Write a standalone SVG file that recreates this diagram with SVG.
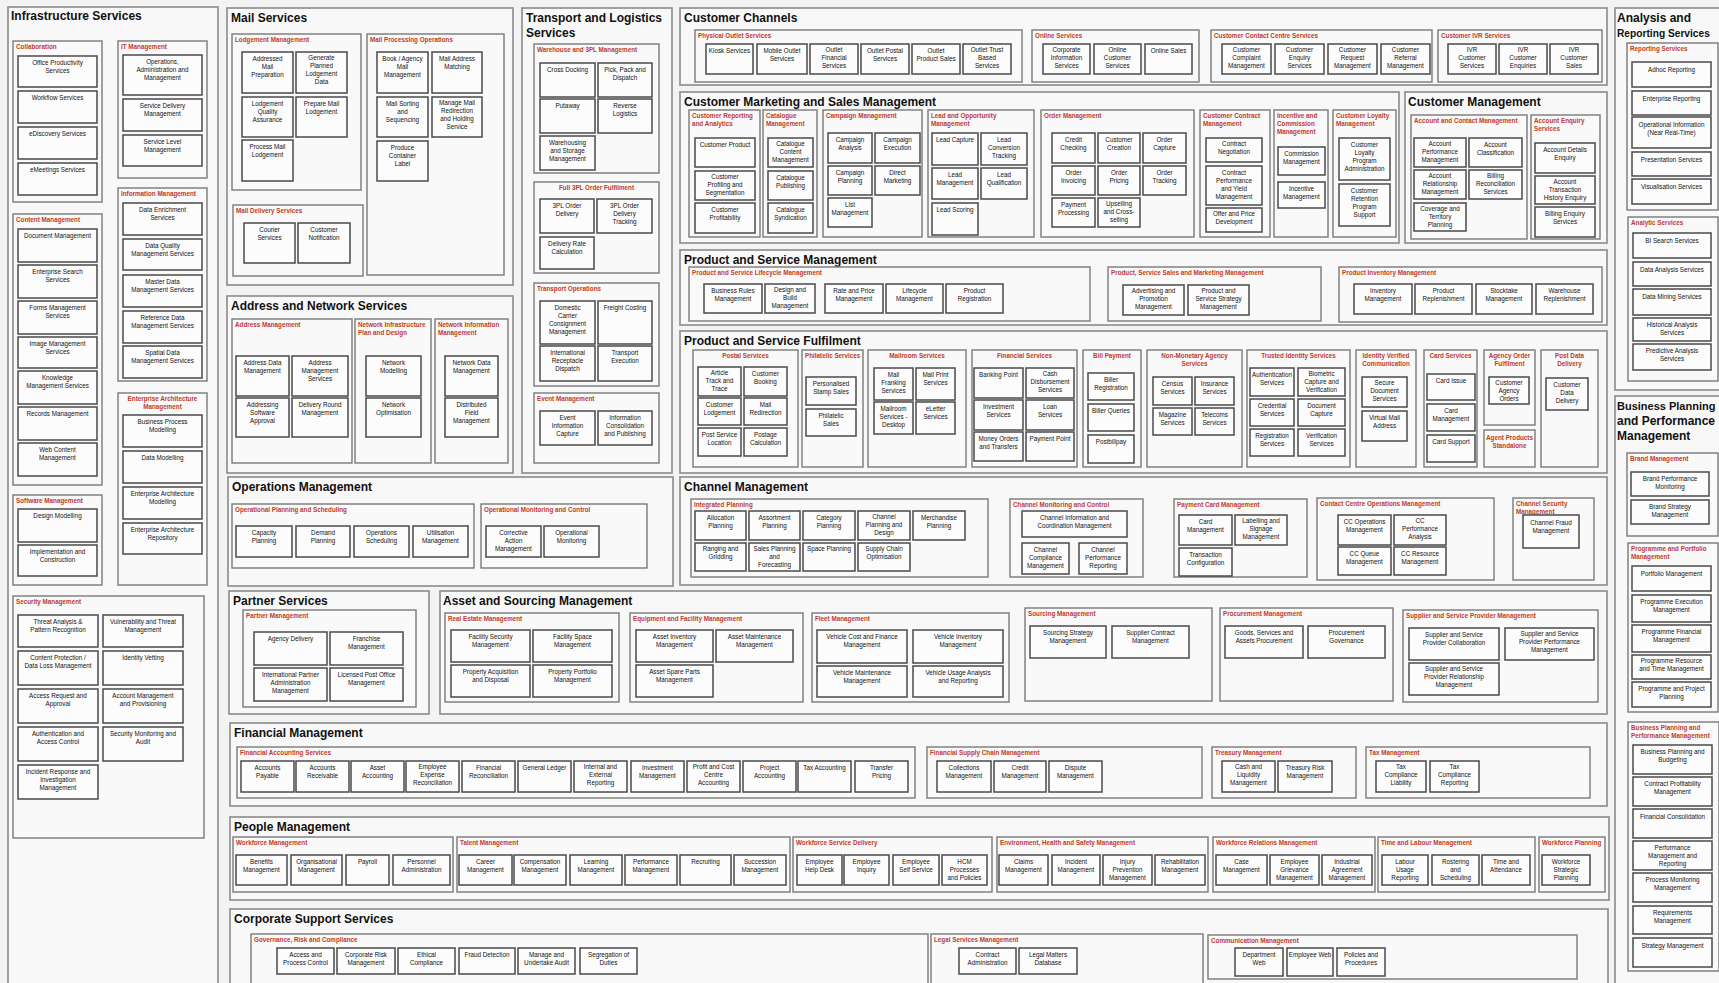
<svg xmlns="http://www.w3.org/2000/svg" width="1719" height="983" viewBox="0 0 1719 983">
<style>
.g{fill:#f8f8f8;stroke:#8a8a8a;stroke-width:1.6}
.s{fill:#f9f9f9;stroke:#7a7a7a;stroke-width:1.4}
.b{fill:#fcfcfc;stroke:#4a4a4a;stroke-width:1.5}
.t{font:bold 12px "Liberation Sans",Arial,sans-serif;fill:#111}
.l{font:bold 6.3px "Liberation Sans",Arial,sans-serif;fill:#c0392b}
.lc{text-anchor:middle}
.n{font:6.3px "Liberation Sans",Arial,sans-serif;fill:#111;text-anchor:middle}
</style>
<rect x="0" y="0" width="1719" height="983" fill="#f3f3f3"/>

<!-- ================= Infrastructure Services ================= -->
<g id="infrastructure-services"><rect class="g" x="8" y="7" width="210" height="990"/><text class="t" x="11" y="20">Infrastructure Services</text></g>
<g id="collaboration"><rect class="s" x="13" y="41" width="89" height="161"/><text class="l" x="16" y="49">Collaboration</text></g>
<g id="n-office-prod"><rect class="b" x="18" y="56" width="79" height="31"/><text class="n" x="57.5" y="65">Office Productivity<tspan x="57.5" dy="8">Services</tspan></text></g>
<g id="n-workflow"><rect class="b" x="18" y="91" width="79" height="32"/><text class="n" x="57.5" y="100">Workflow Services</text></g>
<g id="n-ediscovery"><rect class="b" x="18" y="127" width="79" height="32"/><text class="n" x="57.5" y="136">eDiscovery Services</text></g>
<g id="n-emeetings"><rect class="b" x="18" y="163" width="79" height="32"/><text class="n" x="57.5" y="172">eMeetings Services</text></g>

<g id="it-management"><rect class="s" x="118" y="41" width="89" height="137"/><text class="l" x="121" y="49">IT Management</text></g>
<g id="n-ops-admin"><rect class="b" x="123" y="55" width="79" height="40"/><text class="n" x="162.5" y="64">Operations,<tspan x="162.5" dy="8">Administration and</tspan><tspan x="162.5" dy="8">Management</tspan></text></g>
<g id="n-service-delivery"><rect class="b" x="123" y="99" width="79" height="32"/><text class="n" x="162.5" y="108">Service Delivery<tspan x="162.5" dy="8">Management</tspan></text></g>
<g id="n-service-level"><rect class="b" x="123" y="135" width="79" height="31"/><text class="n" x="162.5" y="144">Service Level<tspan x="162.5" dy="8">Management</tspan></text></g>

<g id="content-management"><rect class="s" x="13" y="214" width="89" height="271"/><text class="l" x="16" y="222">Content Management</text></g>
<g id="n-document-mgmt"><rect class="b" x="18" y="229" width="79" height="33"/><text class="n" x="57.5" y="238">Document Management</text></g>
<g id="n-enterprise-search"><rect class="b" x="18" y="265" width="79" height="33"/><text class="n" x="57.5" y="274">Enterprise Search<tspan x="57.5" dy="8">Services</tspan></text></g>
<g id="n-forms-mgmt"><rect class="b" x="18" y="301" width="79" height="33"/><text class="n" x="57.5" y="310">Forms Management<tspan x="57.5" dy="8">Services</tspan></text></g>
<g id="n-image-mgmt"><rect class="b" x="18" y="337" width="79" height="31"/><text class="n" x="57.5" y="346">Image Management<tspan x="57.5" dy="8">Services</tspan></text></g>
<g id="n-knowledge-mgmt"><rect class="b" x="18" y="371" width="79" height="33"/><text class="n" x="57.5" y="380">Knowledge<tspan x="57.5" dy="8">Management Services</tspan></text></g>
<g id="n-records-mgmt"><rect class="b" x="18" y="407" width="79" height="33"/><text class="n" x="57.5" y="416">Records Management</text></g>
<g id="n-web-content"><rect class="b" x="18" y="443" width="79" height="33"/><text class="n" x="57.5" y="452">Web Content<tspan x="57.5" dy="8">Management</tspan></text></g>

<g id="information-management"><rect class="s" x="118" y="188" width="89" height="193"/><text class="l" x="121" y="196">Information Management</text></g>
<g id="n-data-enrichment"><rect class="b" x="123" y="203" width="79" height="32"/><text class="n" x="162.5" y="212">Data Enrichment<tspan x="162.5" dy="8">Services</tspan></text></g>
<g id="n-data-quality"><rect class="b" x="123" y="239" width="79" height="31"/><text class="n" x="162.5" y="248">Data Quality<tspan x="162.5" dy="8">Management Services</tspan></text></g>
<g id="n-master-data"><rect class="b" x="123" y="275" width="79" height="32"/><text class="n" x="162.5" y="284">Master Data<tspan x="162.5" dy="8">Management Services</tspan></text></g>
<g id="n-reference-data"><rect class="b" x="123" y="311" width="79" height="32"/><text class="n" x="162.5" y="320">Reference Data<tspan x="162.5" dy="8">Management Services</tspan></text></g>
<g id="n-spatial-data"><rect class="b" x="123" y="346" width="79" height="32"/><text class="n" x="162.5" y="355">Spatial Data<tspan x="162.5" dy="8">Management Services</tspan></text></g>

<g id="ea-management"><rect class="s" x="118" y="393" width="89" height="192"/><text class="l lc" x="162.5" y="401">Enterprise Architecture<tspan x="162.5" dy="8">Management</tspan></text></g>
<g id="n-bp-modelling"><rect class="b" x="123" y="415" width="79" height="32"/><text class="n" x="162.5" y="424">Business Process<tspan x="162.5" dy="8">Modelling</tspan></text></g>
<g id="n-data-modelling"><rect class="b" x="123" y="451" width="79" height="32"/><text class="n" x="162.5" y="460">Data Modelling</text></g>
<g id="n-ea-modelling"><rect class="b" x="123" y="487" width="79" height="32"/><text class="n" x="162.5" y="496">Enterprise Architecture<tspan x="162.5" dy="8">Modelling</tspan></text></g>
<g id="n-ea-repository"><rect class="b" x="123" y="523" width="79" height="31"/><text class="n" x="162.5" y="532">Enterprise Architecture<tspan x="162.5" dy="8">Repository</tspan></text></g>

<g id="software-management"><rect class="s" x="13" y="495" width="89" height="90"/><text class="l" x="16" y="503">Software Management</text></g>
<g id="n-design-modelling"><rect class="b" x="18" y="509" width="79" height="33"/><text class="n" x="57.5" y="518">Design Modelling</text></g>
<g id="n-implementation"><rect class="b" x="18" y="545" width="79" height="31"/><text class="n" x="57.5" y="554">Implementation and<tspan x="57.5" dy="8">Construction</tspan></text></g>

<g id="security-management"><rect class="s" x="13" y="596" width="191" height="242"/><text class="l" x="16" y="604">Security Management</text></g>
<g id="n-threat-analysis"><rect class="b" x="18" y="615" width="80" height="32"/><text class="n" x="58" y="624">Threat Analysis &amp;<tspan x="58" dy="8">Pattern Recognition</tspan></text></g>
<g id="n-vulnerability"><rect class="b" x="103" y="615" width="80" height="32"/><text class="n" x="143" y="624">Vulnerability and Threat<tspan x="143" dy="8">Management</tspan></text></g>
<g id="n-content-protection"><rect class="b" x="18" y="651" width="80" height="34"/><text class="n" x="58" y="660">Content Protection /<tspan x="58" dy="8">Data Loss Management</tspan></text></g>
<g id="n-identity-vetting"><rect class="b" x="103" y="651" width="80" height="34"/><text class="n" x="143" y="660">Identity Vetting</text></g>
<g id="n-access-request"><rect class="b" x="18" y="689" width="80" height="34"/><text class="n" x="58" y="698">Access Request and<tspan x="58" dy="8">Approval</tspan></text></g>
<g id="n-account-mgmt-prov"><rect class="b" x="103" y="689" width="80" height="34"/><text class="n" x="143" y="698">Account Management<tspan x="143" dy="8">and Provisioning</tspan></text></g>
<g id="n-authentication"><rect class="b" x="18" y="727" width="80" height="34"/><text class="n" x="58" y="736">Authentication and<tspan x="58" dy="8">Access Control</tspan></text></g>
<g id="n-security-monitoring"><rect class="b" x="103" y="727" width="80" height="34"/><text class="n" x="143" y="736">Security Monitoring and<tspan x="143" dy="8">Audit</tspan></text></g>
<g id="n-incident-response"><rect class="b" x="18" y="765" width="80" height="34"/><text class="n" x="58" y="774">Incident Response and<tspan x="58" dy="8">Investigation</tspan><tspan x="58" dy="8">Management</tspan></text></g>

<!-- ================= Mail Services ================= -->
<g id="mail-services"><rect class="g" x="227" y="8" width="286" height="277"/><text class="t" x="231" y="22">Mail Services</text></g>
<g id="lodgement-management"><rect class="s" x="232" y="34" width="129" height="156"/><text class="l" x="235" y="42">Lodgement Management</text></g>
<g id="n-addressed-mail"><rect class="b" x="242" y="52" width="51" height="41"/><text class="n" x="267.5" y="61">Addressed<tspan x="267.5" dy="8">Mail</tspan><tspan x="267.5" dy="8">Preparation</tspan></text></g>
<g id="n-generate-planned"><rect class="b" x="296" y="52" width="51" height="41"/><text class="n" x="321.5" y="60">Generate<tspan x="321.5" dy="8">Planned</tspan><tspan x="321.5" dy="8">Lodgement</tspan><tspan x="321.5" dy="8">Data</tspan></text></g>
<g id="n-lodgement-qa"><rect class="b" x="242" y="97" width="51" height="40"/><text class="n" x="267.5" y="106">Lodgement<tspan x="267.5" dy="8">Quality</tspan><tspan x="267.5" dy="8">Assurance</tspan></text></g>
<g id="n-prepare-mail"><rect class="b" x="296" y="97" width="51" height="40"/><text class="n" x="321.5" y="106">Prepare Mail<tspan x="321.5" dy="8">Lodgement</tspan></text></g>
<g id="n-process-mail"><rect class="b" x="242" y="140" width="51" height="41"/><text class="n" x="267.5" y="149">Process Mail<tspan x="267.5" dy="8">Lodgement</tspan></text></g>

<g id="mail-delivery-services"><rect class="s" x="233" y="205" width="130" height="71"/><text class="l" x="236" y="213">Mail Delivery Services</text></g>
<g id="n-courier"><rect class="b" x="244" y="223" width="51" height="40"/><text class="n" x="269.5" y="232">Courier<tspan x="269.5" dy="8">Services</tspan></text></g>
<g id="n-customer-notification"><rect class="b" x="298" y="223" width="52" height="40"/><text class="n" x="324" y="232">Customer<tspan x="324" dy="8">Notification</tspan></text></g>

<g id="mail-processing-operations"><rect class="s" x="367" y="34" width="137" height="241"/><text class="l" x="370" y="42">Mail Processing Operations</text></g>
<g id="n-book-agency"><rect class="b" x="377" y="52" width="51" height="41"/><text class="n" x="402.5" y="61">Book / Agency<tspan x="402.5" dy="8">Mail</tspan><tspan x="402.5" dy="8">Management</tspan></text></g>
<g id="n-mail-address-matching"><rect class="b" x="432" y="52" width="50" height="41"/><text class="n" x="457" y="61">Mail Address<tspan x="457" dy="8">Matching</tspan></text></g>
<g id="n-mail-sorting"><rect class="b" x="377" y="97" width="51" height="40"/><text class="n" x="402.5" y="106">Mail Sorting<tspan x="402.5" dy="8">and</tspan><tspan x="402.5" dy="8">Sequencing</tspan></text></g>
<g id="n-manage-redirection"><rect class="b" x="432" y="97" width="50" height="40"/><text class="n" x="457" y="105">Manage Mail<tspan x="457" dy="8">Redirection</tspan><tspan x="457" dy="8">and Holding</tspan><tspan x="457" dy="8">Service</tspan></text></g>
<g id="n-container-label"><rect class="b" x="377" y="141" width="51" height="40"/><text class="n" x="402.5" y="150">Produce<tspan x="402.5" dy="8">Container</tspan><tspan x="402.5" dy="8">Label</tspan></text></g>

<!-- ================= Address and Network Services ================= -->
<g id="address-network-services"><rect class="g" x="227" y="296" width="286" height="177"/><text class="t" x="231" y="310">Address and Network Services</text></g>
<g id="address-management"><rect class="s" x="232" y="319" width="120" height="144"/><text class="l" x="235" y="327">Address Management</text></g>
<g id="n-address-data"><rect class="b" x="236" y="356" width="53" height="40"/><text class="n" x="262.5" y="365">Address Data<tspan x="262.5" dy="8">Management</tspan></text></g>
<g id="n-address-mgmt-services"><rect class="b" x="292" y="356" width="56" height="40"/><text class="n" x="320" y="365">Address<tspan x="320" dy="8">Management</tspan><tspan x="320" dy="8">Services</tspan></text></g>
<g id="n-addressing-software"><rect class="b" x="236" y="398" width="53" height="39"/><text class="n" x="262.5" y="407">Addressing<tspan x="262.5" dy="8">Software</tspan><tspan x="262.5" dy="8">Approval</tspan></text></g>
<g id="n-delivery-round"><rect class="b" x="292" y="398" width="56" height="39"/><text class="n" x="320" y="407">Delivery Round<tspan x="320" dy="8">Management</tspan></text></g>
<g id="network-infra-plan"><rect class="s" x="355" y="319" width="76" height="144"/><text class="l" x="358" y="327">Network Infrastructure<tspan x="358" dy="8">Plan and Design</tspan></text></g>
<g id="n-network-modelling"><rect class="b" x="366" y="356" width="55" height="40"/><text class="n" x="393.5" y="365">Network<tspan x="393.5" dy="8">Modelling</tspan></text></g>
<g id="n-network-optimisation"><rect class="b" x="366" y="398" width="55" height="39"/><text class="n" x="393.5" y="407">Network<tspan x="393.5" dy="8">Optimisation</tspan></text></g>
<g id="network-info-mgmt"><rect class="s" x="435" y="319" width="73" height="144"/><text class="l" x="438" y="327">Network Information<tspan x="438" dy="8">Management</tspan></text></g>
<g id="n-network-data"><rect class="b" x="445" y="356" width="53" height="40"/><text class="n" x="471.5" y="365">Network Data<tspan x="471.5" dy="8">Management</tspan></text></g>
<g id="n-distributed-field"><rect class="b" x="445" y="398" width="53" height="39"/><text class="n" x="471.5" y="407">Distributed<tspan x="471.5" dy="8">Field</tspan><tspan x="471.5" dy="8">Management</tspan></text></g>

<!-- ================= Transport and Logistics ================= -->
<g id="transport-logistics"><rect class="g" x="522" y="8" width="150" height="465"/><text class="t" x="526" y="22">Transport and Logistics<tspan x="526" dy="15">Services</tspan></text></g>
<g id="warehouse-3pl"><rect class="s" x="534" y="44" width="125" height="129"/><text class="l" x="537" y="52">Warehouse and 3PL Management</text></g>
<g id="n-cross-docking"><rect class="b" x="540" y="63" width="55" height="34"/><text class="n" x="567.5" y="72">Cross Docking</text></g>
<g id="n-pick-pack"><rect class="b" x="598" y="63" width="54" height="34"/><text class="n" x="625" y="72">Pick, Pack and<tspan x="625" dy="8">Dispatch</tspan></text></g>
<g id="n-putaway"><rect class="b" x="540" y="99" width="55" height="34"/><text class="n" x="567.5" y="108">Putaway</text></g>
<g id="n-reverse-logistics"><rect class="b" x="598" y="99" width="54" height="34"/><text class="n" x="625" y="108">Reverse<tspan x="625" dy="8">Logistics</tspan></text></g>
<g id="n-warehousing"><rect class="b" x="540" y="136" width="55" height="34"/><text class="n" x="567.5" y="145">Warehousing<tspan x="567.5" dy="8">and Storage</tspan><tspan x="567.5" dy="8">Management</tspan></text></g>
<g id="full-3pl"><rect class="s" x="534" y="182" width="125" height="91"/><text class="l lc" x="596.5" y="190">Full 3PL Order Fulfilment</text></g>
<g id="n-3pl-delivery"><rect class="b" x="540" y="199" width="54" height="34"/><text class="n" x="567" y="208">3PL Order<tspan x="567" dy="8">Delivery</tspan></text></g>
<g id="n-3pl-tracking"><rect class="b" x="597" y="199" width="55" height="34"/><text class="n" x="624.5" y="208">3PL Order<tspan x="624.5" dy="8">Delivery</tspan><tspan x="624.5" dy="8">Tracking</tspan></text></g>
<g id="n-delivery-rate"><rect class="b" x="540" y="237" width="54" height="32"/><text class="n" x="567" y="246">Delivery Rate<tspan x="567" dy="8">Calculation</tspan></text></g>
<g id="transport-operations"><rect class="s" x="534" y="283" width="125" height="103"/><text class="l" x="537" y="291">Transport Operations</text></g>
<g id="n-domestic-carrier"><rect class="b" x="540" y="301" width="55" height="43"/><text class="n" x="567.5" y="310">Domestic<tspan x="567.5" dy="8">Carrier</tspan><tspan x="567.5" dy="8">Consignment</tspan><tspan x="567.5" dy="8">Management</tspan></text></g>
<g id="n-freight-costing"><rect class="b" x="598" y="301" width="54" height="43"/><text class="n" x="625" y="310">Freight Costing</text></g>
<g id="n-intl-receptacle"><rect class="b" x="540" y="346" width="55" height="35"/><text class="n" x="567.5" y="355">International<tspan x="567.5" dy="8">Receptacle</tspan><tspan x="567.5" dy="8">Dispatch</tspan></text></g>
<g id="n-transport-execution"><rect class="b" x="598" y="346" width="54" height="35"/><text class="n" x="625" y="355">Transport<tspan x="625" dy="8">Execution</tspan></text></g>
<g id="event-management"><rect class="s" x="534" y="393" width="125" height="70"/><text class="l" x="537" y="401">Event Management</text></g>
<g id="n-event-info"><rect class="b" x="540" y="411" width="55" height="34"/><text class="n" x="567.5" y="420">Event<tspan x="567.5" dy="8">Information</tspan><tspan x="567.5" dy="8">Capture</tspan></text></g>
<g id="n-info-consolidation"><rect class="b" x="598" y="411" width="54" height="34"/><text class="n" x="625" y="420">Information<tspan x="625" dy="8">Consolidation</tspan><tspan x="625" dy="8">and Publishing</tspan></text></g>

<!-- ================= Customer Channels ================= -->
<g id="customer-channels"><rect class="g" x="680" y="8" width="927" height="77"/><text class="t" x="684" y="22">Customer Channels</text></g>
<g id="physical-outlet"><rect class="s" x="695" y="30" width="327" height="52"/><text class="l" x="698" y="38">Physical Outlet Services</text></g>
<g id="n-kiosk"><rect class="b" x="706" y="44" width="47" height="30"/><text class="n" x="729.5" y="53">Kiosk Services</text></g>
<g id="n-mobile-outlet"><rect class="b" x="757" y="44" width="50" height="30"/><text class="n" x="782" y="53">Mobile Outlet<tspan x="782" dy="8">Services</tspan></text></g>
<g id="n-outlet-financial"><rect class="b" x="810" y="44" width="48" height="30"/><text class="n" x="834" y="52">Outlet<tspan x="834" dy="8">Financial</tspan><tspan x="834" dy="8">Services</tspan></text></g>
<g id="n-outlet-postal"><rect class="b" x="861" y="44" width="48" height="30"/><text class="n" x="885" y="53">Outlet Postal<tspan x="885" dy="8">Services</tspan></text></g>
<g id="n-outlet-product"><rect class="b" x="912" y="44" width="48" height="30"/><text class="n" x="936" y="53">Outlet<tspan x="936" dy="8">Product Sales</tspan></text></g>
<g id="n-outlet-trust"><rect class="b" x="963" y="44" width="48" height="30"/><text class="n" x="987" y="52">Outlet Trust<tspan x="987" dy="8">Based</tspan><tspan x="987" dy="8">Services</tspan></text></g>
<g id="online-services"><rect class="s" x="1032" y="30" width="167" height="52"/><text class="l" x="1035" y="38">Online Services</text></g>
<g id="n-corporate-info"><rect class="b" x="1043" y="44" width="47" height="30"/><text class="n" x="1066.5" y="52">Corporate<tspan x="1066.5" dy="8">Information</tspan><tspan x="1066.5" dy="8">Services</tspan></text></g>
<g id="n-online-customer"><rect class="b" x="1094" y="44" width="47" height="30"/><text class="n" x="1117.5" y="52">Online<tspan x="1117.5" dy="8">Customer</tspan><tspan x="1117.5" dy="8">Services</tspan></text></g>
<g id="n-online-sales"><rect class="b" x="1145" y="44" width="47" height="30"/><text class="n" x="1168.5" y="53">Online Sales</text></g>
<g id="contact-centre-services"><rect class="s" x="1211" y="30" width="221" height="52"/><text class="l" x="1214" y="38">Customer Contact Centre Services</text></g>
<g id="n-cust-complaint"><rect class="b" x="1222" y="44" width="49" height="30"/><text class="n" x="1246.5" y="52">Customer<tspan x="1246.5" dy="8">Complaint</tspan><tspan x="1246.5" dy="8">Management</tspan></text></g>
<g id="n-cust-enquiry"><rect class="b" x="1275" y="44" width="49" height="30"/><text class="n" x="1299.5" y="52">Customer<tspan x="1299.5" dy="8">Enquiry</tspan><tspan x="1299.5" dy="8">Services</tspan></text></g>
<g id="n-cust-request"><rect class="b" x="1328" y="44" width="49" height="30"/><text class="n" x="1352.5" y="52">Customer<tspan x="1352.5" dy="8">Request</tspan><tspan x="1352.5" dy="8">Management</tspan></text></g>
<g id="n-cust-referral"><rect class="b" x="1381" y="44" width="49" height="30"/><text class="n" x="1405.5" y="52">Customer<tspan x="1405.5" dy="8">Referral</tspan><tspan x="1405.5" dy="8">Management</tspan></text></g>
<g id="ivr-services"><rect class="s" x="1438" y="30" width="164" height="52"/><text class="l" x="1441" y="38">Customer IVR Services</text></g>
<g id="n-ivr-services"><rect class="b" x="1448" y="44" width="48" height="30"/><text class="n" x="1472" y="52">IVR<tspan x="1472" dy="8">Customer</tspan><tspan x="1472" dy="8">Services</tspan></text></g>
<g id="n-ivr-enquiries"><rect class="b" x="1499" y="44" width="48" height="30"/><text class="n" x="1523" y="52">IVR<tspan x="1523" dy="8">Customer</tspan><tspan x="1523" dy="8">Enquiries</tspan></text></g>
<g id="n-ivr-sales"><rect class="b" x="1550" y="44" width="48" height="30"/><text class="n" x="1574" y="52">IVR<tspan x="1574" dy="8">Customer</tspan><tspan x="1574" dy="8">Sales</tspan></text></g>

<!-- ================= Customer Marketing and Sales ================= -->
<g id="cust-marketing-sales"><rect class="g" x="680" y="92" width="719" height="151"/><text class="t" x="684" y="106">Customer Marketing and Sales Management</text></g>
<g id="cust-reporting"><rect class="s" x="689" y="110" width="71" height="127"/><text class="l" x="692" y="118">Customer Reporting<tspan x="692" dy="8">and Analytics</tspan></text></g>
<g id="n-cust-product"><rect class="b" x="695" y="138" width="60" height="29"/><text class="n" x="725" y="147">Customer Product</text></g>
<g id="n-cust-profiling"><rect class="b" x="695" y="171" width="60" height="29"/><text class="n" x="725" y="179">Customer<tspan x="725" dy="8">Profiling and</tspan><tspan x="725" dy="8">Segmentation</tspan></text></g>
<g id="n-cust-profitability"><rect class="b" x="695" y="203" width="60" height="30"/><text class="n" x="725" y="212">Customer<tspan x="725" dy="8">Profitability</tspan></text></g>
<g id="catalogue-mgmt"><rect class="s" x="763" y="110" width="54" height="127"/><text class="l" x="766" y="118">Catalogue<tspan x="766" dy="8">Management</tspan></text></g>
<g id="n-catalogue-content"><rect class="b" x="768" y="138" width="45" height="29"/><text class="n" x="790.5" y="146">Catalogue<tspan x="790.5" dy="8">Content</tspan><tspan x="790.5" dy="8">Management</tspan></text></g>
<g id="n-catalogue-publishing"><rect class="b" x="768" y="171" width="45" height="29"/><text class="n" x="790.5" y="180">Catalogue<tspan x="790.5" dy="8">Publishing</tspan></text></g>
<g id="n-catalogue-syndication"><rect class="b" x="768" y="203" width="45" height="30"/><text class="n" x="790.5" y="212">Catalogue<tspan x="790.5" dy="8">Syndication</tspan></text></g>
<g id="campaign-mgmt"><rect class="s" x="823" y="110" width="99" height="127"/><text class="l" x="826" y="118">Campaign Management</text></g>
<g id="n-campaign-analysis"><rect class="b" x="828" y="133" width="44" height="30"/><text class="n" x="850" y="142">Campaign<tspan x="850" dy="8">Analysis</tspan></text></g>
<g id="n-campaign-execution"><rect class="b" x="875" y="133" width="45" height="30"/><text class="n" x="897.5" y="142">Campaign<tspan x="897.5" dy="8">Execution</tspan></text></g>
<g id="n-campaign-planning"><rect class="b" x="828" y="166" width="44" height="29"/><text class="n" x="850" y="175">Campaign<tspan x="850" dy="8">Planning</tspan></text></g>
<g id="n-direct-marketing"><rect class="b" x="875" y="166" width="45" height="29"/><text class="n" x="897.5" y="175">Direct<tspan x="897.5" dy="8">Marketing</tspan></text></g>
<g id="n-list-mgmt"><rect class="b" x="828" y="198" width="44" height="29"/><text class="n" x="850" y="207">List<tspan x="850" dy="8">Management</tspan></text></g>
<g id="lead-opportunity"><rect class="s" x="928" y="110" width="106" height="127"/><text class="l" x="931" y="118">Lead and Opportunity<tspan x="931" dy="8">Management</tspan></text></g>
<g id="n-lead-capture"><rect class="b" x="932" y="133" width="46" height="32"/><text class="n" x="955" y="142">Lead Capture</text></g>
<g id="n-lead-conversion"><rect class="b" x="981" y="133" width="46" height="32"/><text class="n" x="1004" y="142">Lead<tspan x="1004" dy="8">Conversion</tspan><tspan x="1004" dy="8">Tracking</tspan></text></g>
<g id="n-lead-mgmt"><rect class="b" x="932" y="168" width="46" height="31"/><text class="n" x="955" y="177">Lead<tspan x="955" dy="8">Management</tspan></text></g>
<g id="n-lead-qualification"><rect class="b" x="981" y="168" width="46" height="31"/><text class="n" x="1004" y="177">Lead<tspan x="1004" dy="8">Qualification</tspan></text></g>
<g id="n-lead-scoring"><rect class="b" x="932" y="203" width="46" height="32"/><text class="n" x="955" y="212">Lead Scoring</text></g>
<g id="order-mgmt"><rect class="s" x="1041" y="110" width="153" height="127"/><text class="l" x="1044" y="118">Order Management</text></g>
<g id="n-credit-checking"><rect class="b" x="1052" y="133" width="43" height="30"/><text class="n" x="1073.5" y="142">Credit<tspan x="1073.5" dy="8">Checking</tspan></text></g>
<g id="n-customer-creation"><rect class="b" x="1098" y="133" width="42" height="30"/><text class="n" x="1119" y="142">Customer<tspan x="1119" dy="8">Creation</tspan></text></g>
<g id="n-order-capture"><rect class="b" x="1143" y="133" width="43" height="30"/><text class="n" x="1164.5" y="142">Order<tspan x="1164.5" dy="8">Capture</tspan></text></g>
<g id="n-order-invoicing"><rect class="b" x="1052" y="166" width="43" height="29"/><text class="n" x="1073.5" y="175">Order<tspan x="1073.5" dy="8">Invoicing</tspan></text></g>
<g id="n-order-pricing"><rect class="b" x="1098" y="166" width="42" height="29"/><text class="n" x="1119" y="175">Order<tspan x="1119" dy="8">Pricing</tspan></text></g>
<g id="n-order-tracking"><rect class="b" x="1143" y="166" width="43" height="29"/><text class="n" x="1164.5" y="175">Order<tspan x="1164.5" dy="8">Tracking</tspan></text></g>
<g id="n-payment-processing"><rect class="b" x="1052" y="198" width="43" height="29"/><text class="n" x="1073.5" y="207">Payment<tspan x="1073.5" dy="8">Processing</tspan></text></g>
<g id="n-upselling"><rect class="b" x="1098" y="198" width="42" height="29"/><text class="n" x="1119" y="206">Upselling<tspan x="1119" dy="8">and Cross-</tspan><tspan x="1119" dy="8">selling</tspan></text></g>
<g id="cust-contract"><rect class="s" x="1200" y="110" width="70" height="127"/><text class="l" x="1203" y="118">Customer Contract<tspan x="1203" dy="8">Management</tspan></text></g>
<g id="n-contract-negotiation"><rect class="b" x="1206" y="138" width="56" height="24"/><text class="n" x="1234" y="146">Contract<tspan x="1234" dy="8">Negotiation</tspan></text></g>
<g id="n-contract-performance"><rect class="b" x="1206" y="166" width="56" height="39"/><text class="n" x="1234" y="175">Contract<tspan x="1234" dy="8">Performance</tspan><tspan x="1234" dy="8">and Yield</tspan><tspan x="1234" dy="8">Management</tspan></text></g>
<g id="n-offer-price"><rect class="b" x="1206" y="208" width="56" height="24"/><text class="n" x="1234" y="216">Offer and Price<tspan x="1234" dy="8">Development</tspan></text></g>
<g id="incentive-mgmt"><rect class="s" x="1274" y="110" width="54" height="127"/><text class="l" x="1277" y="118">Incentive and<tspan x="1277" dy="8">Commission</tspan><tspan x="1277" dy="8">Management</tspan></text></g>
<g id="n-commission-mgmt"><rect class="b" x="1278" y="147" width="47" height="28"/><text class="n" x="1301.5" y="156">Commission<tspan x="1301.5" dy="8">Management</tspan></text></g>
<g id="n-incentive-mgmt"><rect class="b" x="1278" y="182" width="47" height="26"/><text class="n" x="1301.5" y="191">Incentive<tspan x="1301.5" dy="8">Management</tspan></text></g>
<g id="loyalty-mgmt"><rect class="s" x="1333" y="110" width="63" height="127"/><text class="l" x="1336" y="118">Customer Loyalty<tspan x="1336" dy="8">Management</tspan></text></g>
<g id="n-loyalty-admin"><rect class="b" x="1339" y="138" width="51" height="42"/><text class="n" x="1364.5" y="147">Customer<tspan x="1364.5" dy="8">Loyalty</tspan><tspan x="1364.5" dy="8">Program</tspan><tspan x="1364.5" dy="8">Administration</tspan></text></g>
<g id="n-retention-support"><rect class="b" x="1339" y="184" width="51" height="42"/><text class="n" x="1364.5" y="193">Customer<tspan x="1364.5" dy="8">Retention</tspan><tspan x="1364.5" dy="8">Program</tspan><tspan x="1364.5" dy="8">Support</tspan></text></g>

<!-- ================= Customer Management ================= -->
<g id="customer-management"><rect class="g" x="1405" y="92" width="202" height="151"/><text class="t" x="1408" y="106">Customer Management</text></g>
<g id="account-contact"><rect class="s" x="1411" y="115" width="116" height="124"/><text class="l" x="1414" y="123">Account and Contact Management</text></g>
<g id="n-account-performance"><rect class="b" x="1414" y="138" width="52" height="29"/><text class="n" x="1440" y="146">Account<tspan x="1440" dy="8">Performance</tspan><tspan x="1440" dy="8">Management</tspan></text></g>
<g id="n-account-classification"><rect class="b" x="1469" y="138" width="53" height="29"/><text class="n" x="1495.5" y="147">Account<tspan x="1495.5" dy="8">Classification</tspan></text></g>
<g id="n-account-relationship"><rect class="b" x="1414" y="170" width="52" height="29"/><text class="n" x="1440" y="178">Account<tspan x="1440" dy="8">Relationship</tspan><tspan x="1440" dy="8">Management</tspan></text></g>
<g id="n-billing-reconciliation"><rect class="b" x="1469" y="170" width="53" height="29"/><text class="n" x="1495.5" y="178">Billing<tspan x="1495.5" dy="8">Reconciliation</tspan><tspan x="1495.5" dy="8">Services</tspan></text></g>
<g id="n-coverage-territory"><rect class="b" x="1414" y="203" width="52" height="28"/><text class="n" x="1440" y="211">Coverage and<tspan x="1440" dy="8">Territory</tspan><tspan x="1440" dy="8">Planning</tspan></text></g>
<g id="account-enquiry"><rect class="s" x="1531" y="115" width="69" height="124"/><text class="l" x="1534" y="123">Account Enquiry<tspan x="1534" dy="8">Services</tspan></text></g>
<g id="n-account-details"><rect class="b" x="1535" y="143" width="60" height="30"/><text class="n" x="1565" y="152">Account Details<tspan x="1565" dy="8">Enquiry</tspan></text></g>
<g id="n-account-transaction"><rect class="b" x="1535" y="176" width="60" height="28"/><text class="n" x="1565" y="184">Account<tspan x="1565" dy="8">Transaction</tspan><tspan x="1565" dy="8">History Enquiry</tspan></text></g>
<g id="n-billing-enquiry"><rect class="b" x="1535" y="207" width="60" height="30"/><text class="n" x="1565" y="216">Billing Enquiry<tspan x="1565" dy="8">Services</tspan></text></g>

<!-- ================= Analysis and Reporting ================= -->
<g id="analysis-reporting"><rect class="g" x="1615" y="8" width="110" height="382"/><text class="t" x="1617" y="22">Analysis and</text><text class="t" x="1617" y="37" style="font-size:10.2px">Reporting Services</text></g>
<g id="reporting-services"><rect class="s" x="1627" y="43" width="91" height="167"/><text class="l" x="1630" y="51">Reporting Services</text></g>
<g id="n-adhoc"><rect class="b" x="1632" y="62" width="79" height="25"/><text class="n" x="1671.5" y="72">Adhoc Reporting</text></g>
<g id="n-enterprise-reporting"><rect class="b" x="1632" y="91" width="79" height="24"/><text class="n" x="1671.5" y="101">Enterprise Reporting</text></g>
<g id="n-operational-info"><rect class="b" x="1632" y="117" width="79" height="31"/><text class="n" x="1671.5" y="127">Operational Information<tspan x="1671.5" dy="8">(Near Real-Time)</tspan></text></g>
<g id="n-presentation"><rect class="b" x="1632" y="152" width="79" height="24"/><text class="n" x="1671.5" y="162">Presentation Services</text></g>
<g id="n-visualisation"><rect class="b" x="1632" y="179" width="79" height="25"/><text class="n" x="1671.5" y="189">Visualisation Services</text></g>
<g id="analytic-services"><rect class="s" x="1628" y="217" width="90" height="164"/><text class="l" x="1631" y="225">Analytic Services</text></g>
<g id="n-bi-search"><rect class="b" x="1633" y="233" width="78" height="25"/><text class="n" x="1672" y="243">BI Search Services</text></g>
<g id="n-data-analysis"><rect class="b" x="1633" y="262" width="78" height="24"/><text class="n" x="1672" y="272">Data Analysis Services</text></g>
<g id="n-data-mining"><rect class="b" x="1633" y="289" width="78" height="26"/><text class="n" x="1672" y="299">Data Mining Services</text></g>
<g id="n-historical"><rect class="b" x="1633" y="318" width="78" height="23"/><text class="n" x="1672" y="327">Historical Analysis<tspan x="1672" dy="8">Services</tspan></text></g>
<g id="n-predictive"><rect class="b" x="1633" y="344" width="78" height="26"/><text class="n" x="1672" y="353">Predictive Analysis<tspan x="1672" dy="8">Services</tspan></text></g>

<!-- ================= Product and Service Management ================= -->
<g id="product-service-mgmt"><rect class="g" x="680" y="250" width="927" height="75"/><text class="t" x="684" y="264">Product and Service Management</text></g>
<g id="ps-lifecycle"><rect class="s" x="689" y="267" width="401" height="54"/><text class="l" x="692" y="275">Product and Service Lifecycle Management</text></g>
<g id="n-business-rules"><rect class="b" x="704" y="284" width="58" height="29"/><text class="n" x="733" y="293">Business Rules<tspan x="733" dy="8">Management</tspan></text></g>
<g id="n-design-build"><rect class="b" x="765" y="284" width="50" height="29"/><text class="n" x="790" y="292">Design and<tspan x="790" dy="8">Build</tspan><tspan x="790" dy="8">Management</tspan></text></g>
<g id="n-rate-price"><rect class="b" x="825" y="284" width="58" height="29"/><text class="n" x="854" y="293">Rate and Price<tspan x="854" dy="8">Management</tspan></text></g>
<g id="n-lifecycle"><rect class="b" x="886" y="284" width="57" height="29"/><text class="n" x="914.5" y="293">Lifecycle<tspan x="914.5" dy="8">Management</tspan></text></g>
<g id="n-product-registration"><rect class="b" x="946" y="284" width="57" height="29"/><text class="n" x="974.5" y="293">Product<tspan x="974.5" dy="8">Registration</tspan></text></g>
<g id="ps-sales-marketing"><rect class="s" x="1108" y="267" width="213" height="54"/><text class="l" x="1111" y="275">Product, Service Sales and Marketing Management</text></g>
<g id="n-advertising"><rect class="b" x="1123" y="285" width="61" height="30"/><text class="n" x="1153.5" y="293">Advertising and<tspan x="1153.5" dy="8">Promotion</tspan><tspan x="1153.5" dy="8">Management</tspan></text></g>
<g id="n-ps-strategy"><rect class="b" x="1188" y="285" width="61" height="30"/><text class="n" x="1218.5" y="293">Product and<tspan x="1218.5" dy="8">Service Strategy</tspan><tspan x="1218.5" dy="8">Management</tspan></text></g>
<g id="product-inventory"><rect class="s" x="1339" y="267" width="263" height="55"/><text class="l" x="1342" y="275">Product Inventory Management</text></g>
<g id="n-inventory"><rect class="b" x="1354" y="284" width="58" height="30"/><text class="n" x="1383" y="293">Inventory<tspan x="1383" dy="8">Management</tspan></text></g>
<g id="n-product-replenishment"><rect class="b" x="1415" y="284" width="57" height="30"/><text class="n" x="1443.5" y="293">Product<tspan x="1443.5" dy="8">Replenishment</tspan></text></g>
<g id="n-stocktake"><rect class="b" x="1476" y="284" width="56" height="30"/><text class="n" x="1504" y="293">Stocktake<tspan x="1504" dy="8">Management</tspan></text></g>
<g id="n-warehouse-replenishment"><rect class="b" x="1536" y="284" width="57" height="30"/><text class="n" x="1564.5" y="293">Warehouse<tspan x="1564.5" dy="8">Replenishment</tspan></text></g>

<!-- ================= Product and Service Fulfilment ================= -->
<g id="ps-fulfilment"><rect class="g" x="680" y="331" width="927" height="142"/><text class="t" x="684" y="345">Product and Service Fulfilment</text></g>
<g id="postal-services"><rect class="s" x="693" y="350" width="105" height="117"/><text class="l lc" x="745.5" y="358">Postal Services</text></g>
<g id="n-track-trace"><rect class="b" x="698" y="367" width="43" height="29"/><text class="n" x="719.5" y="375">Article<tspan x="719.5" dy="8">Track and</tspan><tspan x="719.5" dy="8">Trace</tspan></text></g>
<g id="n-customer-booking"><rect class="b" x="744" y="367" width="43" height="29"/><text class="n" x="765.5" y="376">Customer<tspan x="765.5" dy="8">Booking</tspan></text></g>
<g id="n-customer-lodgement"><rect class="b" x="698" y="398" width="43" height="27"/><text class="n" x="719.5" y="407">Customer<tspan x="719.5" dy="8">Lodgement</tspan></text></g>
<g id="n-mail-redirection"><rect class="b" x="744" y="398" width="43" height="27"/><text class="n" x="765.5" y="407">Mail<tspan x="765.5" dy="8">Redirection</tspan></text></g>
<g id="n-post-service-location"><rect class="b" x="698" y="428" width="43" height="28"/><text class="n" x="719.5" y="437">Post Service<tspan x="719.5" dy="8">Location</tspan></text></g>
<g id="n-postage-calc"><rect class="b" x="744" y="428" width="43" height="28"/><text class="n" x="765.5" y="437">Postage<tspan x="765.5" dy="8">Calculation</tspan></text></g>
<g id="philatelic-services"><rect class="s" x="802" y="350" width="61" height="117"/><text class="l" x="805" y="358">Philatelic Services</text></g>
<g id="n-personalised-stamp"><rect class="b" x="806" y="377" width="50" height="28"/><text class="n" x="831" y="386">Personalised<tspan x="831" dy="8">Stamp Sales</tspan></text></g>
<g id="n-philatelic-sales"><rect class="b" x="806" y="409" width="50" height="27"/><text class="n" x="831" y="418">Philatelic<tspan x="831" dy="8">Sales</tspan></text></g>
<g id="mailroom-services"><rect class="s" x="868" y="350" width="98" height="117"/><text class="l lc" x="917" y="358">Mailroom Services</text></g>
<g id="n-mail-franking"><rect class="b" x="874" y="368" width="39" height="32"/><text class="n" x="893.5" y="377">Mail<tspan x="893.5" dy="8">Franking</tspan><tspan x="893.5" dy="8">Services</tspan></text></g>
<g id="n-mail-print"><rect class="b" x="916" y="368" width="39" height="32"/><text class="n" x="935.5" y="377">Mail Print<tspan x="935.5" dy="8">Services</tspan></text></g>
<g id="n-mailroom-desktop"><rect class="b" x="874" y="402" width="39" height="32"/><text class="n" x="893.5" y="411">Mailroom<tspan x="893.5" dy="8">Services -</tspan><tspan x="893.5" dy="8">Desktop</tspan></text></g>
<g id="n-eletter"><rect class="b" x="916" y="402" width="39" height="32"/><text class="n" x="935.5" y="411">eLetter<tspan x="935.5" dy="8">Services</tspan></text></g>
<g id="financial-services"><rect class="s" x="972" y="350" width="105" height="117"/><text class="l lc" x="1024.5" y="358">Financial Services</text></g>
<g id="n-banking-point"><rect class="b" x="974" y="368" width="49" height="30"/><text class="n" x="998.5" y="377">Banking Point</text></g>
<g id="n-cash-disbursement"><rect class="b" x="1026" y="368" width="48" height="30"/><text class="n" x="1050" y="376">Cash<tspan x="1050" dy="8">Disbursement</tspan><tspan x="1050" dy="8">Services</tspan></text></g>
<g id="n-investment-services"><rect class="b" x="974" y="400" width="49" height="30"/><text class="n" x="998.5" y="409">Investment<tspan x="998.5" dy="8">Services</tspan></text></g>
<g id="n-loan-services"><rect class="b" x="1026" y="400" width="48" height="30"/><text class="n" x="1050" y="409">Loan<tspan x="1050" dy="8">Services</tspan></text></g>
<g id="n-money-orders"><rect class="b" x="974" y="432" width="49" height="29"/><text class="n" x="998.5" y="441">Money Orders<tspan x="998.5" dy="8">and Transfers</tspan></text></g>
<g id="n-payment-point"><rect class="b" x="1026" y="432" width="48" height="29"/><text class="n" x="1050" y="441">Payment Point</text></g>
<g id="bill-payment"><rect class="s" x="1083" y="350" width="58" height="117"/><text class="l lc" x="1112" y="358">Bill Payment</text></g>
<g id="n-biller-registration"><rect class="b" x="1088" y="373" width="46" height="27"/><text class="n" x="1111" y="382">Biller<tspan x="1111" dy="8">Registration</tspan></text></g>
<g id="n-biller-queries"><rect class="b" x="1088" y="404" width="46" height="27"/><text class="n" x="1111" y="413">Biller Queries</text></g>
<g id="n-postbillpay"><rect class="b" x="1088" y="435" width="46" height="28"/><text class="n" x="1111" y="444">Postbillpay</text></g>
<g id="non-monetary"><rect class="s" x="1147" y="350" width="95" height="117"/><text class="l lc" x="1194.5" y="358">Non-Monetary Agency<tspan x="1194.5" dy="8">Services</tspan></text></g>
<g id="n-census"><rect class="b" x="1153" y="377" width="39" height="28"/><text class="n" x="1172.5" y="386">Census<tspan x="1172.5" dy="8">Services</tspan></text></g>
<g id="n-insurance"><rect class="b" x="1195" y="377" width="39" height="28"/><text class="n" x="1214.5" y="386">Insurance<tspan x="1214.5" dy="8">Services</tspan></text></g>
<g id="n-magazine"><rect class="b" x="1153" y="408" width="39" height="27"/><text class="n" x="1172.5" y="417">Magazine<tspan x="1172.5" dy="8">Services</tspan></text></g>
<g id="n-telecoms"><rect class="b" x="1195" y="408" width="39" height="27"/><text class="n" x="1214.5" y="417">Telecoms<tspan x="1214.5" dy="8">Services</tspan></text></g>
<g id="trusted-identity"><rect class="s" x="1247" y="350" width="103" height="117"/><text class="l lc" x="1298.5" y="358">Trusted Identity Services</text></g>
<g id="n-authentication-services"><rect class="b" x="1250" y="368" width="44" height="28"/><text class="n" x="1272" y="377">Authentication<tspan x="1272" dy="8">Services</tspan></text></g>
<g id="n-biometric"><rect class="b" x="1298" y="368" width="47" height="28"/><text class="n" x="1321.5" y="376">Biometric<tspan x="1321.5" dy="8">Capture and</tspan><tspan x="1321.5" dy="8">Verification</tspan></text></g>
<g id="n-credential"><rect class="b" x="1250" y="399" width="44" height="27"/><text class="n" x="1272" y="408">Credential<tspan x="1272" dy="8">Services</tspan></text></g>
<g id="n-document-capture"><rect class="b" x="1298" y="399" width="47" height="27"/><text class="n" x="1321.5" y="408">Document<tspan x="1321.5" dy="8">Capture</tspan></text></g>
<g id="n-registration-services"><rect class="b" x="1250" y="429" width="44" height="27"/><text class="n" x="1272" y="438">Registration<tspan x="1272" dy="8">Services</tspan></text></g>
<g id="n-verification-services"><rect class="b" x="1298" y="429" width="47" height="27"/><text class="n" x="1321.5" y="438">Verification<tspan x="1321.5" dy="8">Services</tspan></text></g>
<g id="identity-verified"><rect class="s" x="1356" y="350" width="60" height="117"/><text class="l lc" x="1386" y="358">Identity Verified<tspan x="1386" dy="8">Communication</tspan></text></g>
<g id="n-secure-document"><rect class="b" x="1362" y="377" width="45" height="30"/><text class="n" x="1384.5" y="385">Secure<tspan x="1384.5" dy="8">Document</tspan><tspan x="1384.5" dy="8">Services</tspan></text></g>
<g id="n-virtual-mail"><rect class="b" x="1362" y="411" width="45" height="30"/><text class="n" x="1384.5" y="420">Virtual Mail<tspan x="1384.5" dy="8">Address</tspan></text></g>
<g id="card-services"><rect class="s" x="1424" y="350" width="53" height="117"/><text class="l lc" x="1450.5" y="358">Card Services</text></g>
<g id="n-card-issue"><rect class="b" x="1427" y="374" width="48" height="26"/><text class="n" x="1451" y="383">Card Issue</text></g>
<g id="n-card-management"><rect class="b" x="1427" y="404" width="48" height="27"/><text class="n" x="1451" y="413">Card<tspan x="1451" dy="8">Management</tspan></text></g>
<g id="n-card-support"><rect class="b" x="1427" y="435" width="48" height="27"/><text class="n" x="1451" y="444">Card Support</text></g>
<g id="agency-order"><rect class="s" x="1484" y="350" width="51" height="75"/><text class="l lc" x="1509.5" y="358">Agency Order<tspan x="1509.5" dy="8">Fulfilment</tspan></text></g>
<g id="n-customer-agency-orders"><rect class="b" x="1489" y="377" width="40" height="27"/><text class="n" x="1509" y="385">Customer<tspan x="1509" dy="8">Agency</tspan><tspan x="1509" dy="8">Orders</tspan></text></g>
<g id="agent-products"><rect class="s" x="1484" y="430" width="51" height="37"/><text class="l lc" x="1509.5" y="440">Agent Products<tspan x="1509.5" dy="8">Standalone</tspan></text></g>
<g id="post-data-delivery"><rect class="s" x="1541" y="350" width="57" height="117"/><text class="l lc" x="1569.5" y="358">Post Data<tspan x="1569.5" dy="8">Delivery</tspan></text></g>
<g id="n-customer-data-delivery"><rect class="b" x="1546" y="378" width="42" height="32"/><text class="n" x="1567" y="387">Customer<tspan x="1567" dy="8">Data</tspan><tspan x="1567" dy="8">Delivery</tspan></text></g>

<!-- ================= Operations Management ================= -->
<g id="operations-mgmt"><rect class="g" x="228" y="477" width="445" height="109"/><text class="t" x="232" y="491">Operations Management</text></g>
<g id="op-planning"><rect class="s" x="232" y="504" width="242" height="64"/><text class="l" x="235" y="512">Operational Planning and Scheduling</text></g>
<g id="n-capacity-planning"><rect class="b" x="236" y="526" width="56" height="31"/><text class="n" x="264" y="535">Capacity<tspan x="264" dy="8">Planning</tspan></text></g>
<g id="n-demand-planning"><rect class="b" x="296" y="526" width="54" height="31"/><text class="n" x="323" y="535">Demand<tspan x="323" dy="8">Planning</tspan></text></g>
<g id="n-ops-scheduling"><rect class="b" x="354" y="526" width="55" height="31"/><text class="n" x="381.5" y="535">Operations<tspan x="381.5" dy="8">Scheduling</tspan></text></g>
<g id="n-utilisation"><rect class="b" x="413" y="526" width="55" height="31"/><text class="n" x="440.5" y="535">Utilisation<tspan x="440.5" dy="8">Management</tspan></text></g>
<g id="op-monitoring"><rect class="s" x="481" y="504" width="166" height="64"/><text class="l" x="484" y="512">Operational Monitoring and Control</text></g>
<g id="n-corrective-action"><rect class="b" x="486" y="526" width="55" height="31"/><text class="n" x="513.5" y="535">Corrective<tspan x="513.5" dy="8">Action</tspan><tspan x="513.5" dy="8">Management</tspan></text></g>
<g id="n-op-monitoring"><rect class="b" x="544" y="526" width="55" height="31"/><text class="n" x="571.5" y="535">Operational<tspan x="571.5" dy="8">Monitoring</tspan></text></g>

<!-- ================= Channel Management ================= -->
<g id="channel-mgmt"><rect class="g" x="680" y="477" width="927" height="108"/><text class="t" x="684" y="491">Channel Management</text></g>
<g id="integrated-planning"><rect class="s" x="691" y="499" width="297" height="78"/><text class="l" x="694" y="507">Integrated Planning</text></g>
<g id="n-allocation"><rect class="b" x="695" y="511" width="51" height="29"/><text class="n" x="720.5" y="520">Allocation<tspan x="720.5" dy="8">Planning</tspan></text></g>
<g id="n-assortment"><rect class="b" x="749" y="511" width="51" height="29"/><text class="n" x="774.5" y="520">Assortment<tspan x="774.5" dy="8">Planning</tspan></text></g>
<g id="n-category"><rect class="b" x="803" y="511" width="52" height="29"/><text class="n" x="829" y="520">Category<tspan x="829" dy="8">Planning</tspan></text></g>
<g id="n-channel-planning"><rect class="b" x="858" y="511" width="52" height="29"/><text class="n" x="884" y="519">Channel<tspan x="884" dy="8">Planning and</tspan><tspan x="884" dy="8">Design</tspan></text></g>
<g id="n-merchandise"><rect class="b" x="913" y="511" width="52" height="29"/><text class="n" x="939" y="520">Merchandise<tspan x="939" dy="8">Planning</tspan></text></g>
<g id="n-ranging"><rect class="b" x="695" y="543" width="51" height="28"/><text class="n" x="720.5" y="551">Ranging and<tspan x="720.5" dy="8">Gridding</tspan></text></g>
<g id="n-sales-planning"><rect class="b" x="749" y="543" width="51" height="28"/><text class="n" x="774.5" y="551">Sales Planning<tspan x="774.5" dy="8">and</tspan><tspan x="774.5" dy="8">Forecasting</tspan></text></g>
<g id="n-space-planning"><rect class="b" x="803" y="543" width="52" height="28"/><text class="n" x="829" y="551">Space Planning</text></g>
<g id="n-supply-chain"><rect class="b" x="858" y="543" width="52" height="28"/><text class="n" x="884" y="551">Supply Chain<tspan x="884" dy="8">Optimisation</tspan></text></g>
<g id="channel-monitoring"><rect class="s" x="1010" y="499" width="133" height="78"/><text class="l" x="1013" y="507">Channel Monitoring and Control</text></g>
<g id="n-channel-info"><rect class="b" x="1022" y="511" width="105" height="26"/><text class="n" x="1074.5" y="520">Channel Information and<tspan x="1074.5" dy="8">Coordination Management</tspan></text></g>
<g id="n-channel-compliance"><rect class="b" x="1022" y="543" width="47" height="31"/><text class="n" x="1045.5" y="552">Channel<tspan x="1045.5" dy="8">Compliance</tspan><tspan x="1045.5" dy="8">Management</tspan></text></g>
<g id="n-channel-performance"><rect class="b" x="1079" y="543" width="48" height="31"/><text class="n" x="1103" y="552">Channel<tspan x="1103" dy="8">Performance</tspan><tspan x="1103" dy="8">Reporting</tspan></text></g>
<g id="payment-card-mgmt"><rect class="s" x="1174" y="499" width="133" height="78"/><text class="l" x="1177" y="507">Payment Card Management</text></g>
<g id="n-pc-card-mgmt"><rect class="b" x="1179" y="515" width="53" height="30"/><text class="n" x="1205.5" y="524">Card<tspan x="1205.5" dy="8">Management</tspan></text></g>
<g id="n-labelling-signage"><rect class="b" x="1235" y="515" width="52" height="30"/><text class="n" x="1261" y="523">Labelling and<tspan x="1261" dy="8">Signage</tspan><tspan x="1261" dy="8">Management</tspan></text></g>
<g id="n-transaction-config"><rect class="b" x="1179" y="548" width="53" height="28"/><text class="n" x="1205.5" y="557">Transaction<tspan x="1205.5" dy="8">Configuration</tspan></text></g>
<g id="cc-operations"><rect class="s" x="1317" y="498" width="177" height="82"/><text class="l" x="1320" y="506">Contact Centre Operations Management</text></g>
<g id="n-cc-ops"><rect class="b" x="1338" y="515" width="53" height="30"/><text class="n" x="1364.5" y="524">CC Operations<tspan x="1364.5" dy="8">Management</tspan></text></g>
<g id="n-cc-performance"><rect class="b" x="1394" y="515" width="52" height="30"/><text class="n" x="1420" y="523">CC<tspan x="1420" dy="8">Performance</tspan><tspan x="1420" dy="8">Analysis</tspan></text></g>
<g id="n-cc-queue"><rect class="b" x="1338" y="547" width="53" height="28"/><text class="n" x="1364.5" y="556">CC Queue<tspan x="1364.5" dy="8">Management</tspan></text></g>
<g id="n-cc-resource"><rect class="b" x="1394" y="547" width="52" height="28"/><text class="n" x="1420" y="556">CC Resource<tspan x="1420" dy="8">Management</tspan></text></g>
<g id="channel-security"><rect class="s" x="1513" y="498" width="81" height="82"/><text class="l" x="1516" y="506">Channel Security<tspan x="1516" dy="8">Management</tspan></text></g>
<g id="n-channel-fraud"><rect class="b" x="1523" y="515" width="56" height="33"/><text class="n" x="1551" y="525">Channel Fraud<tspan x="1551" dy="8">Management</tspan></text></g>

<!-- ================= Partner Services ================= -->
<g id="partner-services"><rect class="g" x="229" y="591" width="200" height="123"/><text class="t" x="233" y="605">Partner Services</text></g>
<g id="partner-mgmt"><rect class="s" x="243" y="610" width="173" height="97"/><text class="l" x="246" y="618">Partner Management</text></g>
<g id="n-agency-delivery"><rect class="b" x="254" y="632" width="73" height="33"/><text class="n" x="290.5" y="641">Agency Delivery</text></g>
<g id="n-franchise"><rect class="b" x="330" y="632" width="73" height="33"/><text class="n" x="366.5" y="641">Franchise<tspan x="366.5" dy="8">Management</tspan></text></g>
<g id="n-intl-partner"><rect class="b" x="254" y="668" width="73" height="33"/><text class="n" x="290.5" y="677">International Partner<tspan x="290.5" dy="8">Administration</tspan><tspan x="290.5" dy="8">Management</tspan></text></g>
<g id="n-licensed-po"><rect class="b" x="330" y="668" width="73" height="33"/><text class="n" x="366.5" y="677">Licensed Post Office<tspan x="366.5" dy="8">Management</tspan></text></g>

<!-- ================= Asset and Sourcing Management ================= -->
<g id="asset-sourcing"><rect class="g" x="440" y="591" width="1167" height="123"/><text class="t" x="443" y="605">Asset and Sourcing Management</text></g>
<g id="real-estate"><rect class="s" x="445" y="613" width="174" height="89"/><text class="l" x="448" y="621">Real Estate Management</text></g>
<g id="n-facility-security"><rect class="b" x="451" y="630" width="79" height="32"/><text class="n" x="490.5" y="639">Facility Security<tspan x="490.5" dy="8">Management</tspan></text></g>
<g id="n-facility-space"><rect class="b" x="533" y="630" width="79" height="32"/><text class="n" x="572.5" y="639">Facility Space<tspan x="572.5" dy="8">Management</tspan></text></g>
<g id="n-property-acquisition"><rect class="b" x="451" y="665" width="79" height="32"/><text class="n" x="490.5" y="674">Property Acquisition<tspan x="490.5" dy="8">and Disposal</tspan></text></g>
<g id="n-property-portfolio"><rect class="b" x="533" y="665" width="79" height="32"/><text class="n" x="572.5" y="674">Property Portfolio<tspan x="572.5" dy="8">Management</tspan></text></g>
<g id="equipment-facility"><rect class="s" x="630" y="613" width="173" height="89"/><text class="l" x="633" y="621">Equipment and Facility Management</text></g>
<g id="n-asset-inventory"><rect class="b" x="636" y="630" width="77" height="32"/><text class="n" x="674.5" y="639">Asset Inventory<tspan x="674.5" dy="8">Management</tspan></text></g>
<g id="n-asset-maintenance"><rect class="b" x="716" y="630" width="77" height="32"/><text class="n" x="754.5" y="639">Asset Maintenance<tspan x="754.5" dy="8">Management</tspan></text></g>
<g id="n-asset-spare"><rect class="b" x="636" y="665" width="77" height="32"/><text class="n" x="674.5" y="674">Asset Spare Parts<tspan x="674.5" dy="8">Management</tspan></text></g>
<g id="fleet-mgmt"><rect class="s" x="812" y="613" width="197" height="89"/><text class="l" x="815" y="621">Fleet Management</text></g>
<g id="n-vehicle-cost"><rect class="b" x="817" y="630" width="90" height="33"/><text class="n" x="862" y="639">Vehicle Cost and Finance<tspan x="862" dy="8">Management</tspan></text></g>
<g id="n-vehicle-inventory"><rect class="b" x="913" y="630" width="90" height="33"/><text class="n" x="958" y="639">Vehicle Inventory<tspan x="958" dy="8">Management</tspan></text></g>
<g id="n-vehicle-maintenance"><rect class="b" x="817" y="666" width="90" height="31"/><text class="n" x="862" y="675">Vehicle Maintenance<tspan x="862" dy="8">Management</tspan></text></g>
<g id="n-vehicle-usage"><rect class="b" x="913" y="666" width="90" height="31"/><text class="n" x="958" y="675">Vehicle Usage Analysis<tspan x="958" dy="8">and Reporting</tspan></text></g>
<g id="sourcing-mgmt"><rect class="s" x="1025" y="608" width="187" height="93"/><text class="l" x="1028" y="616">Sourcing Management</text></g>
<g id="n-sourcing-strategy"><rect class="b" x="1030" y="626" width="76" height="32"/><text class="n" x="1068" y="635">Sourcing Strategy<tspan x="1068" dy="8">Management</tspan></text></g>
<g id="n-supplier-contract"><rect class="b" x="1112" y="626" width="77" height="32"/><text class="n" x="1150.5" y="635">Supplier Contract<tspan x="1150.5" dy="8">Management</tspan></text></g>
<g id="procurement-mgmt"><rect class="s" x="1220" y="608" width="173" height="93"/><text class="l" x="1223" y="616">Procurement Management</text></g>
<g id="n-goods-services"><rect class="b" x="1225" y="626" width="78" height="32"/><text class="n" x="1264" y="635">Goods, Services and<tspan x="1264" dy="8">Assets Procurement</tspan></text></g>
<g id="n-procurement-governance"><rect class="b" x="1308" y="626" width="77" height="32"/><text class="n" x="1346.5" y="635">Procurement<tspan x="1346.5" dy="8">Governance</tspan></text></g>
<g id="supplier-provider"><rect class="s" x="1403" y="610" width="195" height="92"/><text class="l" x="1406" y="618">Supplier and Service Provider Management</text></g>
<g id="n-sp-collaboration"><rect class="b" x="1409" y="628" width="90" height="32"/><text class="n" x="1454" y="637">Supplier and Service<tspan x="1454" dy="8">Provider Collaboration</tspan></text></g>
<g id="n-sp-performance"><rect class="b" x="1505" y="628" width="89" height="32"/><text class="n" x="1549.5" y="636">Supplier and Service<tspan x="1549.5" dy="8">Provider Performance</tspan><tspan x="1549.5" dy="8">Management</tspan></text></g>
<g id="n-sp-relationship"><rect class="b" x="1409" y="663" width="90" height="32"/><text class="n" x="1454" y="671">Supplier and Service<tspan x="1454" dy="8">Provider Relationship</tspan><tspan x="1454" dy="8">Management</tspan></text></g>

<!-- ================= Financial Management ================= -->
<g id="financial-mgmt"><rect class="g" x="230" y="723" width="1377" height="83"/><text class="t" x="234" y="737">Financial Management</text></g>
<g id="financial-accounting"><rect class="s" x="237" y="747" width="678" height="51"/><text class="l" x="240" y="755">Financial Accounting Services</text></g>
<g id="n-ap"><rect class="b" x="241" y="761" width="53" height="31"/><text class="n" x="267.5" y="770">Accounts<tspan x="267.5" dy="8">Payable</tspan></text></g>
<g id="n-ar"><rect class="b" x="296" y="761" width="53" height="31"/><text class="n" x="322.5" y="770">Accounts<tspan x="322.5" dy="8">Receivable</tspan></text></g>
<g id="n-asset-accounting"><rect class="b" x="351" y="761" width="53" height="31"/><text class="n" x="377.5" y="770">Asset<tspan x="377.5" dy="8">Accounting</tspan></text></g>
<g id="n-employee-expense"><rect class="b" x="406" y="761" width="53" height="31"/><text class="n" x="432.5" y="769">Employee<tspan x="432.5" dy="8">Expense</tspan><tspan x="432.5" dy="8">Reconciliation</tspan></text></g>
<g id="n-financial-reconciliation"><rect class="b" x="462" y="761" width="53" height="31"/><text class="n" x="488.5" y="770">Financial<tspan x="488.5" dy="8">Reconciliation</tspan></text></g>
<g id="n-general-ledger"><rect class="b" x="518" y="761" width="53" height="31"/><text class="n" x="544.5" y="770">General Ledger</text></g>
<g id="n-internal-external"><rect class="b" x="574" y="761" width="53" height="31"/><text class="n" x="600.5" y="769">Internal and<tspan x="600.5" dy="8">External</tspan><tspan x="600.5" dy="8">Reporting</tspan></text></g>
<g id="n-investment-mgmt"><rect class="b" x="631" y="761" width="53" height="31"/><text class="n" x="657.5" y="770">Investment<tspan x="657.5" dy="8">Management</tspan></text></g>
<g id="n-profit-cost"><rect class="b" x="687" y="761" width="53" height="31"/><text class="n" x="713.5" y="769">Profit and Cost<tspan x="713.5" dy="8">Centre</tspan><tspan x="713.5" dy="8">Accounting</tspan></text></g>
<g id="n-project-accounting"><rect class="b" x="743" y="761" width="53" height="31"/><text class="n" x="769.5" y="770">Project<tspan x="769.5" dy="8">Accounting</tspan></text></g>
<g id="n-tax-accounting"><rect class="b" x="798" y="761" width="53" height="31"/><text class="n" x="824.5" y="770">Tax Accounting</text></g>
<g id="n-transfer-pricing"><rect class="b" x="855" y="761" width="53" height="31"/><text class="n" x="881.5" y="770">Transfer<tspan x="881.5" dy="8">Pricing</tspan></text></g>
<g id="financial-supply-chain"><rect class="s" x="927" y="747" width="275" height="51"/><text class="l" x="930" y="755">Financial Supply Chain Management</text></g>
<g id="n-collections"><rect class="b" x="937" y="761" width="54" height="31"/><text class="n" x="964" y="770">Collections<tspan x="964" dy="8">Management</tspan></text></g>
<g id="n-credit-mgmt"><rect class="b" x="994" y="761" width="52" height="31"/><text class="n" x="1020" y="770">Credit<tspan x="1020" dy="8">Management</tspan></text></g>
<g id="n-dispute-mgmt"><rect class="b" x="1049" y="761" width="53" height="31"/><text class="n" x="1075.5" y="770">Dispute<tspan x="1075.5" dy="8">Management</tspan></text></g>
<g id="treasury-mgmt"><rect class="s" x="1212" y="747" width="144" height="51"/><text class="l" x="1215" y="755">Treasury Management</text></g>
<g id="n-cash-liquidity"><rect class="b" x="1222" y="761" width="53" height="31"/><text class="n" x="1248.5" y="769">Cash and<tspan x="1248.5" dy="8">Liquidity</tspan><tspan x="1248.5" dy="8">Management</tspan></text></g>
<g id="n-treasury-risk"><rect class="b" x="1278" y="761" width="54" height="31"/><text class="n" x="1305" y="770">Treasury Risk<tspan x="1305" dy="8">Management</tspan></text></g>
<g id="tax-mgmt"><rect class="s" x="1366" y="747" width="224" height="51"/><text class="l" x="1369" y="755">Tax Management</text></g>
<g id="n-tax-liability"><rect class="b" x="1376" y="761" width="50" height="31"/><text class="n" x="1401" y="769">Tax<tspan x="1401" dy="8">Compliance</tspan><tspan x="1401" dy="8">Liability</tspan></text></g>
<g id="n-tax-reporting"><rect class="b" x="1430" y="761" width="49" height="31"/><text class="n" x="1454.5" y="769">Tax<tspan x="1454.5" dy="8">Compliance</tspan><tspan x="1454.5" dy="8">Reporting</tspan></text></g>

<!-- ================= People Management ================= -->
<g id="people-mgmt"><rect class="g" x="230" y="817" width="1379" height="83"/><text class="t" x="234" y="831">People Management</text></g>
<g id="workforce-mgmt"><rect class="s" x="233" y="837" width="220" height="55"/><text class="l" x="236" y="845">Workforce Management</text></g>
<g id="n-benefits"><rect class="b" x="236" y="855" width="51" height="30"/><text class="n" x="261.5" y="864">Benefits<tspan x="261.5" dy="8">Management</tspan></text></g>
<g id="n-organisational"><rect class="b" x="291" y="855" width="51" height="30"/><text class="n" x="316.5" y="864">Organisational<tspan x="316.5" dy="8">Management</tspan></text></g>
<g id="n-payroll"><rect class="b" x="346" y="855" width="43" height="30"/><text class="n" x="367.5" y="864">Payroll</text></g>
<g id="n-personnel"><rect class="b" x="393" y="855" width="57" height="30"/><text class="n" x="421.5" y="864">Personnel<tspan x="421.5" dy="8">Administration</tspan></text></g>
<g id="talent-mgmt"><rect class="s" x="457" y="837" width="333" height="55"/><text class="l" x="460" y="845">Talent Management</text></g>
<g id="n-career"><rect class="b" x="459" y="855" width="53" height="30"/><text class="n" x="485.5" y="864">Career<tspan x="485.5" dy="8">Management</tspan></text></g>
<g id="n-compensation"><rect class="b" x="514" y="855" width="52" height="30"/><text class="n" x="540" y="864">Compensation<tspan x="540" dy="8">Management</tspan></text></g>
<g id="n-learning"><rect class="b" x="570" y="855" width="52" height="30"/><text class="n" x="596" y="864">Learning<tspan x="596" dy="8">Management</tspan></text></g>
<g id="n-performance"><rect class="b" x="625" y="855" width="52" height="30"/><text class="n" x="651" y="864">Performance<tspan x="651" dy="8">Management</tspan></text></g>
<g id="n-recruiting"><rect class="b" x="680" y="855" width="51" height="30"/><text class="n" x="705.5" y="864">Recruiting</text></g>
<g id="n-succession"><rect class="b" x="734" y="855" width="52" height="30"/><text class="n" x="760" y="864">Succession<tspan x="760" dy="8">Management</tspan></text></g>
<g id="workforce-service"><rect class="s" x="793" y="837" width="199" height="55"/><text class="l" x="796" y="845">Workforce Service Delivery</text></g>
<g id="n-help-desk"><rect class="b" x="797" y="855" width="45" height="30"/><text class="n" x="819.5" y="864">Employee<tspan x="819.5" dy="8">Help Desk</tspan></text></g>
<g id="n-employee-inquiry"><rect class="b" x="844" y="855" width="45" height="30"/><text class="n" x="866.5" y="864">Employee<tspan x="866.5" dy="8">Inquiry</tspan></text></g>
<g id="n-self-service"><rect class="b" x="893" y="855" width="46" height="30"/><text class="n" x="916" y="864">Employee<tspan x="916" dy="8">Self Service</tspan></text></g>
<g id="n-hcm"><rect class="b" x="942" y="855" width="45" height="30"/><text class="n" x="964.5" y="864">HCM<tspan x="964.5" dy="8">Processes</tspan><tspan x="964.5" dy="8">and Policies</tspan></text></g>
<g id="ehs-mgmt"><rect class="s" x="997" y="837" width="211" height="55"/><text class="l" x="1000" y="845">Environment, Health and Safety Management</text></g>
<g id="n-claims"><rect class="b" x="999" y="855" width="49" height="30"/><text class="n" x="1023.5" y="864">Claims<tspan x="1023.5" dy="8">Management</tspan></text></g>
<g id="n-incident"><rect class="b" x="1052" y="855" width="48" height="30"/><text class="n" x="1076" y="864">Incident<tspan x="1076" dy="8">Management</tspan></text></g>
<g id="n-injury"><rect class="b" x="1103" y="855" width="49" height="30"/><text class="n" x="1127.5" y="864">Injury<tspan x="1127.5" dy="8">Prevention</tspan><tspan x="1127.5" dy="8">Management</tspan></text></g>
<g id="n-rehabilitation"><rect class="b" x="1155" y="855" width="50" height="30"/><text class="n" x="1180" y="864">Rehabilitation<tspan x="1180" dy="8">Management</tspan></text></g>
<g id="workforce-relations"><rect class="s" x="1213" y="837" width="162" height="55"/><text class="l" x="1216" y="845">Workforce Relations Management</text></g>
<g id="n-case"><rect class="b" x="1216" y="855" width="51" height="30"/><text class="n" x="1241.5" y="864">Case<tspan x="1241.5" dy="8">Management</tspan></text></g>
<g id="n-grievance"><rect class="b" x="1270" y="855" width="49" height="30"/><text class="n" x="1294.5" y="864">Employee<tspan x="1294.5" dy="8">Grievance</tspan><tspan x="1294.5" dy="8">Management</tspan></text></g>
<g id="n-industrial"><rect class="b" x="1322" y="855" width="50" height="30"/><text class="n" x="1347" y="864">Industrial<tspan x="1347" dy="8">Agreement</tspan><tspan x="1347" dy="8">Management</tspan></text></g>
<g id="time-labour"><rect class="s" x="1378" y="837" width="157" height="55"/><text class="l" x="1381" y="845">Time and Labour Management</text></g>
<g id="n-labour-usage"><rect class="b" x="1382" y="855" width="46" height="30"/><text class="n" x="1405" y="864">Labour<tspan x="1405" dy="8">Usage</tspan><tspan x="1405" dy="8">Reporting</tspan></text></g>
<g id="n-rostering"><rect class="b" x="1432" y="855" width="47" height="30"/><text class="n" x="1455.5" y="864">Rostering<tspan x="1455.5" dy="8">and</tspan><tspan x="1455.5" dy="8">Scheduling</tspan></text></g>
<g id="n-time-attendance"><rect class="b" x="1482" y="855" width="48" height="30"/><text class="n" x="1506" y="864">Time and<tspan x="1506" dy="8">Attendance</tspan></text></g>
<g id="workforce-planning"><rect class="s" x="1539" y="837" width="66" height="55"/><text class="l" x="1542" y="845">Workforce Planning</text></g>
<g id="n-workforce-strategic"><rect class="b" x="1542" y="855" width="48" height="30"/><text class="n" x="1566" y="864">Workforce<tspan x="1566" dy="8">Strategic</tspan><tspan x="1566" dy="8">Planning</tspan></text></g>

<!-- ================= Corporate Support Services ================= -->
<g id="corporate-support"><rect class="g" x="230" y="909" width="1378" height="90"/><text class="t" x="234" y="923">Corporate Support Services</text></g>
<g id="grc"><rect class="s" x="251" y="934" width="677" height="55"/><text class="l" x="254" y="942">Governance, Risk and Compliance</text></g>
<g id="n-access-process"><rect class="b" x="277" y="948" width="57" height="26"/><text class="n" x="305.5" y="957">Access and<tspan x="305.5" dy="8">Process Control</tspan></text></g>
<g id="n-corporate-risk"><rect class="b" x="337" y="948" width="58" height="26"/><text class="n" x="366" y="957">Corporate Risk<tspan x="366" dy="8">Management</tspan></text></g>
<g id="n-ethical-compliance"><rect class="b" x="398" y="948" width="57" height="26"/><text class="n" x="426.5" y="957">Ethical<tspan x="426.5" dy="8">Compliance</tspan></text></g>
<g id="n-fraud-detection"><rect class="b" x="459" y="948" width="56" height="26"/><text class="n" x="487" y="957">Fraud Detection</text></g>
<g id="n-manage-audit"><rect class="b" x="518" y="948" width="57" height="26"/><text class="n" x="546.5" y="957">Manage and<tspan x="546.5" dy="8">Undertake Audit</tspan></text></g>
<g id="n-segregation"><rect class="b" x="580" y="948" width="57" height="26"/><text class="n" x="608.5" y="957">Segregation of<tspan x="608.5" dy="8">Duties</tspan></text></g>
<g id="legal-services"><rect class="s" x="931" y="934" width="272" height="55"/><text class="l" x="934" y="942">Legal Services Management</text></g>
<g id="n-contract-admin"><rect class="b" x="959" y="948" width="57" height="26"/><text class="n" x="987.5" y="957">Contract<tspan x="987.5" dy="8">Administration</tspan></text></g>
<g id="n-legal-matters"><rect class="b" x="1019" y="948" width="58" height="26"/><text class="n" x="1048" y="957">Legal Matters<tspan x="1048" dy="8">Database</tspan></text></g>
<g id="communication-mgmt"><rect class="s" x="1208" y="935" width="369" height="44"/><text class="l" x="1211" y="943">Communication Management</text></g>
<g id="n-department-web"><rect class="b" x="1235" y="948" width="48" height="28"/><text class="n" x="1259" y="957">Department<tspan x="1259" dy="8">Web</tspan></text></g>
<g id="n-employee-web"><rect class="b" x="1287" y="948" width="46" height="28"/><text class="n" x="1310" y="957">Employee Web</text></g>
<g id="n-policies"><rect class="b" x="1337" y="948" width="48" height="28"/><text class="n" x="1361" y="957">Policies and<tspan x="1361" dy="8">Procedures</tspan></text></g>

<!-- ================= Business Planning and Performance ================= -->
<g id="business-planning"><rect class="g" x="1615" y="396" width="110" height="600"/><text class="t" x="1617" y="410" style="font-size:11px">Business Planning</text><text class="t" x="1617" y="425">and Performance</text><text class="t" x="1617" y="440">Management</text></g>
<g id="brand-mgmt"><rect class="s" x="1627" y="453" width="91" height="83"/><text class="l" x="1630" y="461">Brand Management</text></g>
<g id="n-brand-performance"><rect class="b" x="1631" y="472" width="78" height="24"/><text class="n" x="1670" y="481">Brand Performance<tspan x="1670" dy="8">Monitoring</tspan></text></g>
<g id="n-brand-strategy"><rect class="b" x="1631" y="500" width="78" height="24"/><text class="n" x="1670" y="509">Brand Strategy<tspan x="1670" dy="8">Management</tspan></text></g>
<g id="programme-portfolio"><rect class="s" x="1628" y="543" width="90" height="169"/><text class="l" x="1631" y="551">Programme and Portfolio<tspan x="1631" dy="8">Management</tspan></text></g>
<g id="n-portfolio"><rect class="b" x="1632" y="566" width="79" height="25"/><text class="n" x="1671.5" y="576">Portfolio Management</text></g>
<g id="n-programme-execution"><rect class="b" x="1632" y="595" width="79" height="27"/><text class="n" x="1671.5" y="604">Programme Execution<tspan x="1671.5" dy="8">Management</tspan></text></g>
<g id="n-programme-financial"><rect class="b" x="1632" y="625" width="79" height="27"/><text class="n" x="1671.5" y="634">Programme Financial<tspan x="1671.5" dy="8">Management</tspan></text></g>
<g id="n-programme-resource"><rect class="b" x="1632" y="655" width="79" height="24"/><text class="n" x="1671.5" y="663">Programme Resource<tspan x="1671.5" dy="8">and Time Management</tspan></text></g>
<g id="n-programme-project"><rect class="b" x="1632" y="682" width="79" height="25"/><text class="n" x="1671.5" y="691">Programme and Project<tspan x="1671.5" dy="8">Planning</tspan></text></g>
<g id="bppm-sub"><rect class="s" x="1628" y="722" width="91" height="249"/><text class="l" x="1631" y="730">Business Planning and<tspan x="1631" dy="8">Performance Management</tspan></text></g>
<g id="n-bp-budgeting"><rect class="b" x="1633" y="745" width="79" height="29"/><text class="n" x="1672.5" y="754">Business Planning and<tspan x="1672.5" dy="8">Budgeting</tspan></text></g>
<g id="n-contract-profitability"><rect class="b" x="1633" y="777" width="79" height="29"/><text class="n" x="1672.5" y="786">Contract Profitability<tspan x="1672.5" dy="8">Management</tspan></text></g>
<g id="n-financial-consolidation"><rect class="b" x="1633" y="809" width="79" height="29"/><text class="n" x="1672.5" y="819">Financial Consolidation</text></g>
<g id="n-performance-reporting"><rect class="b" x="1633" y="841" width="79" height="29"/><text class="n" x="1672.5" y="850">Performance<tspan x="1672.5" dy="8">Management and</tspan><tspan x="1672.5" dy="8">Reporting</tspan></text></g>
<g id="n-process-monitoring"><rect class="b" x="1633" y="873" width="79" height="29"/><text class="n" x="1672.5" y="882">Process Monitoring<tspan x="1672.5" dy="8">Management</tspan></text></g>
<g id="n-requirements"><rect class="b" x="1633" y="906" width="79" height="28"/><text class="n" x="1672.5" y="915">Requirements<tspan x="1672.5" dy="8">Management</tspan></text></g>
<g id="n-strategy-mgmt"><rect class="b" x="1633" y="938" width="79" height="29"/><text class="n" x="1672.5" y="948">Strategy Management</text></g>

<g id="connectors"></g>
</svg>
